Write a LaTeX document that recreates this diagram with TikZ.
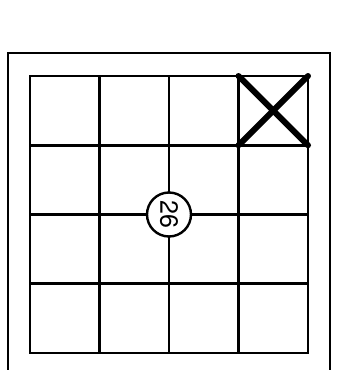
\documentclass[tikz,border=0pt]{standalone}
\usepackage{fontspec}
\setmainfont{TeX Gyre Heros}
\usepackage{tikz}

\begin{document}
\begin{tikzpicture}[
  x=1pt, y=-1pt,
  frame/.style={draw, line width=2.6pt},
  gridline/.style={draw, line width=2.6pt},
  cross/.style={draw, line width=6pt, line cap=round},
  marker/.style={circle, draw, line width=2.4pt, fill=white, minimum size=44pt,
    inner sep=0pt, font=\fontsize{25}{25}\selectfont, rotate=-90}
]
\useasboundingbox (0,0) rectangle (347,370);
% outer frame, open at the bottom
\draw[frame] (8,370) -- (8,53) -- (330,53) -- (330,370);
% the 4x4 grid
\draw[gridline] (30,76) rectangle (308,353);
\foreach \i in {1,2,3} {
  \draw[gridline] (30+69.5*\i,76) -- (30+69.5*\i,353);
  \draw[gridline] (30,76+69.25*\i) -- (308,76+69.25*\i);
}
% crossed-out cell
\coordinate (xa) at (238.5,76);
\coordinate (xb) at (308,145.25);
\draw[cross] (xa) -- (xb);
\draw[cross] (xa |- xb) -- (xb |- xa);
% numbered marker
\node[marker] (n26) at (169,214.5) {26};
\end{tikzpicture}
\end{document}
